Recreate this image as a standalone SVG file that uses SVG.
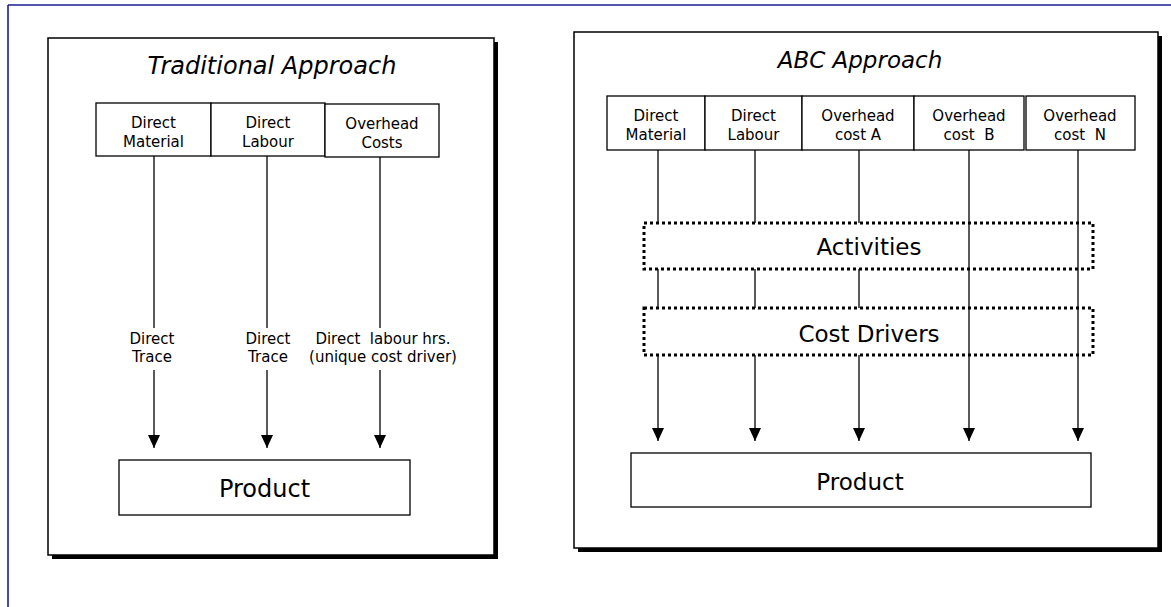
<svg xmlns="http://www.w3.org/2000/svg" width="1171" height="607" viewBox="0 0 1171 607">
<style>
text{font-family:"DejaVu Sans","Verdana",sans-serif;fill:#000;text-anchor:middle}
.sm{font-size:15px}
.lg{font-size:24px}
.md{font-size:23px}
.it{font-style:italic}
.box{fill:#fff;stroke:#000;stroke-width:1.3}
.panel{fill:#fff;stroke:#000;stroke-width:1.5}
.dot{fill:none;stroke:#000;stroke-width:3;stroke-dasharray:3 3}
.ln{stroke:#000;stroke-width:1.3;fill:none}
</style>
<defs>
<marker id="ah" viewBox="0 0 13 12" refX="13" refY="6" markerWidth="13" markerHeight="12" markerUnits="userSpaceOnUse" orient="auto">
<path d="M0,0 L13,6 L0,12 Z" fill="#000"/>
</marker>
</defs>
<rect width="1171" height="607" fill="#fff"/>
<g id="frame">
<line x1="8" y1="5" x2="1171" y2="5" stroke="#1c1c94" stroke-width="1.6"/>
<line x1="8" y1="5" x2="8" y2="607" stroke="#1c1c94" stroke-width="1.6"/>
</g>
<g id="panel-traditional">
<rect x="52" y="42" width="446" height="517" fill="#000"/>
<rect class="panel" x="48" y="38" width="446" height="517"/>
<text class="lg it" x="272" y="74">Traditional Approach</text>
</g>
<g id="t-direct-material">
<rect class="box" x="96" y="103" width="115" height="53"/>
<text class="sm" x="153.5" y="128">Direct</text>
<text class="sm" x="153.5" y="147">Material</text>
</g>
<g id="t-direct-labour">
<rect class="box" x="211" y="103" width="114" height="53"/>
<text class="sm" x="268" y="128">Direct</text>
<text class="sm" x="268" y="147">Labour</text>
</g>
<g id="t-overhead-costs">
<rect class="box" x="325" y="104" width="114" height="53"/>
<text class="sm" x="382" y="129">Overhead</text>
<text class="sm" x="382" y="148">Costs</text>
</g>
<g id="t-product">
<rect class="box" x="119" y="460" width="291" height="55"/>
<text class="lg" x="264.5" y="497">Product</text>
</g>
<g id="panel-abc">
<rect x="578" y="36" width="584" height="516" fill="#000"/>
<rect class="panel" x="574" y="32" width="584" height="516"/>
<text class="md it" x="860" y="68">ABC Approach</text>
</g>
<g id="a-direct-material">
<rect class="box" x="607" y="96" width="98" height="54"/>
<text class="sm" x="656" y="121">Direct</text>
<text class="sm" x="656" y="140">Material</text>
</g>
<g id="a-direct-labour">
<rect class="box" x="705" y="96" width="97" height="54"/>
<text class="sm" x="753.5" y="121">Direct</text>
<text class="sm" x="753.5" y="140">Labour</text>
</g>
<g id="a-overhead-a">
<rect class="box" x="802" y="96" width="112" height="54"/>
<text class="sm" x="858" y="121">Overhead</text>
<text class="sm" x="858" y="140">cost A</text>
</g>
<g id="a-overhead-b">
<rect class="box" x="914" y="96" width="110" height="54"/>
<text class="sm" x="969" y="121">Overhead</text>
<text class="sm" x="969" y="140" xml:space="preserve">cost  B</text>
</g>
<g id="a-overhead-n">
<rect class="box" x="1026" y="96" width="109" height="54"/>
<text class="sm" x="1080" y="121">Overhead</text>
<text class="sm" x="1080" y="140" xml:space="preserve">cost  N</text>
</g>
<g id="connectors">
<line class="ln" x1="154" y1="156" x2="154" y2="328"/>
<line class="ln" x1="154" y1="370" x2="154" y2="448" marker-end="url(#ah)"/>
<line class="ln" x1="267" y1="156" x2="267" y2="328"/>
<line class="ln" x1="267" y1="370" x2="267" y2="448" marker-end="url(#ah)"/>
<line class="ln" x1="380" y1="157" x2="380" y2="328"/>
<line class="ln" x1="380" y1="370" x2="380" y2="448" marker-end="url(#ah)"/>
<line class="ln" x1="658" y1="150" x2="658" y2="223"/>
<line class="ln" x1="658" y1="269" x2="658" y2="308"/>
<line class="ln" x1="658" y1="355" x2="658" y2="441" marker-end="url(#ah)"/>
<line class="ln" x1="755" y1="150" x2="755" y2="223"/>
<line class="ln" x1="755" y1="269" x2="755" y2="308"/>
<line class="ln" x1="755" y1="355" x2="755" y2="441" marker-end="url(#ah)"/>
<line class="ln" x1="859" y1="150" x2="859" y2="223"/>
<line class="ln" x1="859" y1="269" x2="859" y2="308"/>
<line class="ln" x1="859" y1="355" x2="859" y2="441" marker-end="url(#ah)"/>
<line class="ln" x1="969" y1="150" x2="969" y2="441" marker-end="url(#ah)"/>
<line class="ln" x1="1078" y1="150" x2="1078" y2="441" marker-end="url(#ah)"/>
<text class="sm" x="152" y="344">Direct</text>
<text class="sm" x="152" y="362">Trace</text>
<text class="sm" x="268" y="344">Direct</text>
<text class="sm" x="268" y="362">Trace</text>
<text class="sm" x="383" y="344" xml:space="preserve">Direct  labour hrs.</text>
<text class="sm" x="383" y="362">(unique cost driver)</text>
</g>
<g id="a-activities">
<rect class="dot" x="644" y="223" width="449" height="46"/>
<text class="md" x="869" y="255">Activities</text>
</g>
<g id="a-cost-drivers">
<rect class="dot" x="644" y="308" width="449" height="47"/>
<text class="md" x="869" y="342">Cost Drivers</text>
</g>
<g id="a-product">
<rect class="box" x="631" y="453" width="460" height="54"/>
<text class="md" x="860" y="490">Product</text>
</g>
</svg>
